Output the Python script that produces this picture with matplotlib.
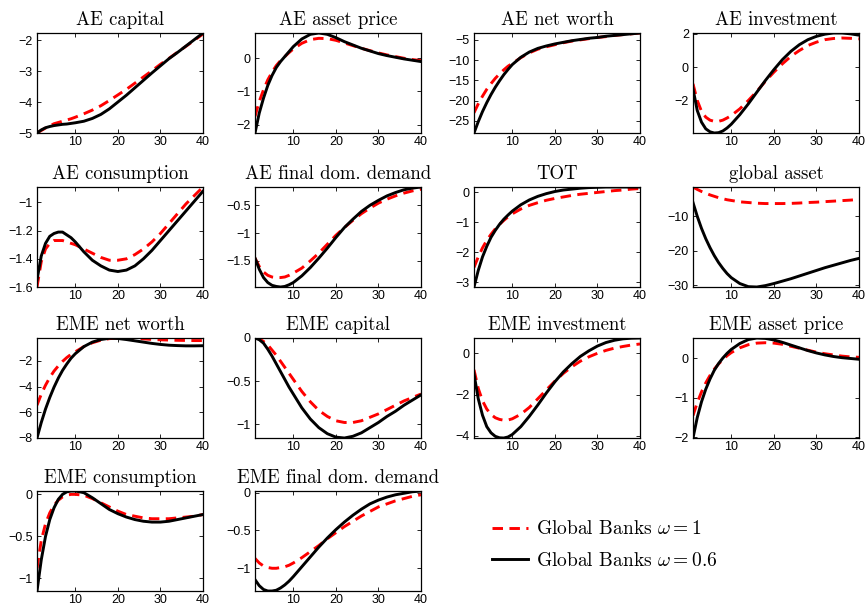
import matplotlib
matplotlib.use("Agg")
import matplotlib.pyplot as plt
from matplotlib.ticker import FuncFormatter
from matplotlib.lines import Line2D

plt.rcParams['mathtext.fontset'] = 'cm'
plt.rcParams['font.family'] = ['Liberation Sans', 'DejaVu Sans']

# quarters after the shock
t = [1, 2, 3, 4, 5, 6, 7, 8, 9, 10, 12, 14, 16, 18, 20, 22, 24, 26, 28, 30, 32, 34, 36, 38, 40]

titles = ['AE capital', 'AE asset price', 'AE net worth', 'AE investment',
          'AE consumption', 'AE final dom. demand', 'TOT', 'global asset',
          'EME net worth', 'EME capital', 'EME investment', 'EME asset price',
          'EME consumption', 'EME final dom. demand']

# omega = 1 (red dashed)
ae_capital_1 = [-5.0, -4.92, -4.84, -4.77, -4.7, -4.66, -4.62, -4.58, -4.54, -4.49, -4.38, -4.26, -4.12, -3.95, -3.77, -3.59, -3.39, -3.19, -2.99, -2.78, -2.59, -2.39, -2.2, -2.0, -1.8]
ae_price_1 = [-1.75, -1.3, -0.95, -0.65, -0.42, -0.22, -0.07, 0.05, 0.17, 0.28, 0.45, 0.56, 0.6, 0.59, 0.54, 0.46, 0.38, 0.3, 0.23, 0.16, 0.1, 0.05, 0.0, -0.04, -0.07]
ae_networth_1 = [-23, -20.8, -18.9, -17.2, -15.8, -14.5, -13.4, -12.4, -11.5, -10.8, -9.4, -8.2, -7.3, -6.7, -6.2, -5.7, -5.3, -5.0, -4.7, -4.4, -4.2, -3.9, -3.7, -3.5, -3.3]
ae_invest_1 = [-1.0, -2.0, -2.65, -3.0, -3.18, -3.25, -3.25, -3.18, -3.05, -2.9, -2.5, -2.0, -1.45, -0.85, -0.3, 0.2, 0.65, 1.0, 1.3, 1.5, 1.65, 1.72, 1.75, 1.73, 1.7]
ae_cons_1 = [-1.6, -1.42, -1.33, -1.29, -1.27, -1.27, -1.27, -1.28, -1.29, -1.3, -1.33, -1.36, -1.39, -1.41, -1.41, -1.4, -1.37, -1.33, -1.28, -1.22, -1.15, -1.08, -1.01, -0.95, -0.89]
ae_demand_1 = [-1.45, -1.6, -1.7, -1.76, -1.79, -1.8, -1.8, -1.79, -1.76, -1.72, -1.63, -1.5, -1.36, -1.2, -1.04, -0.9, -0.77, -0.65, -0.55, -0.46, -0.39, -0.33, -0.28, -0.24, -0.21]
tot_1 = [-2.5, -2.15, -1.85, -1.6, -1.4, -1.22, -1.07, -0.94, -0.82, -0.72, -0.56, -0.44, -0.35, -0.27, -0.21, -0.16, -0.11, -0.07, -0.04, -0.01, 0.02, 0.05, 0.07, 0.1, 0.12]
global_asset_1 = [-1.5, -2.2, -2.8, -3.3, -3.8, -4.2, -4.6, -4.9, -5.2, -5.4, -5.8, -6.0, -6.2, -6.3, -6.3, -6.3, -6.25, -6.15, -6.0, -5.9, -5.75, -5.6, -5.45, -5.3, -5.1]
eme_networth_1 = [-5.45, -4.6, -3.9, -3.3, -2.8, -2.4, -2.05, -1.75, -1.5, -1.3, -0.9, -0.6, -0.4, -0.28, -0.23, -0.24, -0.27, -0.3, -0.34, -0.37, -0.39, -0.41, -0.42, -0.43, -0.43]
eme_capital_1 = [0.0, -0.01, -0.04, -0.08, -0.14, -0.2, -0.27, -0.34, -0.41, -0.48, -0.62, -0.74, -0.84, -0.91, -0.96, -0.98, -0.98, -0.96, -0.92, -0.88, -0.83, -0.78, -0.73, -0.69, -0.65]
eme_invest_1 = [-0.8, -1.7, -2.3, -2.7, -2.96, -3.12, -3.2, -3.24, -3.23, -3.17, -2.95, -2.62, -2.2, -1.77, -1.35, -0.97, -0.65, -0.38, -0.17, 0.0, 0.14, 0.25, 0.33, 0.4, 0.45]
eme_price_1 = [-1.45, -1.12, -0.85, -0.62, -0.43, -0.27, -0.14, -0.03, 0.07, 0.15, 0.27, 0.35, 0.39, 0.4, 0.39, 0.36, 0.31, 0.26, 0.21, 0.16, 0.12, 0.09, 0.06, 0.04, 0.03]
eme_cons_1 = [-0.88, -0.55, -0.35, -0.22, -0.13, -0.07, -0.03, -0.01, 0.0, 0.0, -0.01, -0.05, -0.1, -0.15, -0.2, -0.24, -0.26, -0.28, -0.29, -0.29, -0.29, -0.28, -0.27, -0.26, -0.24]
eme_demand_1 = [-0.87, -0.93, -0.97, -0.99, -1.0, -1.0, -0.99, -0.98, -0.96, -0.93, -0.86, -0.78, -0.7, -0.61, -0.53, -0.45, -0.38, -0.31, -0.25, -0.19, -0.15, -0.11, -0.08, -0.05, -0.03]

# omega = 0.6 (black solid)
ae_capital_06 = [-5.0, -4.9, -4.83, -4.79, -4.76, -4.74, -4.72, -4.71, -4.69, -4.67, -4.62, -4.53, -4.4, -4.22, -4.0, -3.78, -3.54, -3.3, -3.06, -2.83, -2.6, -2.4, -2.19, -1.98, -1.77]
ae_price_06 = [-2.25, -1.65, -1.2, -0.82, -0.52, -0.28, -0.1, 0.05, 0.2, 0.35, 0.58, 0.72, 0.76, 0.72, 0.62, 0.5, 0.4, 0.3, 0.22, 0.14, 0.08, 0.03, -0.02, -0.06, -0.1]
ae_networth_06 = [-28, -25.2, -22.7, -20.5, -18.5, -16.7, -15.1, -13.6, -12.3, -11.1, -9.3, -8.0, -7.1, -6.5, -6.0, -5.6, -5.2, -4.9, -4.6, -4.4, -4.1, -3.9, -3.7, -3.5, -3.3]
ae_invest_06 = [-1.3, -2.6, -3.3, -3.7, -3.88, -3.95, -3.93, -3.83, -3.65, -3.42, -2.85, -2.2, -1.5, -0.8, -0.15, 0.45, 0.95, 1.35, 1.65, 1.85, 1.98, 2.05, 2.05, 2.0, 1.92]
ae_cons_06 = [-1.55, -1.38, -1.29, -1.24, -1.22, -1.21, -1.21, -1.23, -1.25, -1.28, -1.35, -1.41, -1.45, -1.48, -1.49, -1.48, -1.45, -1.4, -1.34, -1.27, -1.2, -1.13, -1.06, -0.99, -0.92]
ae_demand_06 = [-1.45, -1.65, -1.8, -1.89, -1.94, -1.96, -1.97, -1.96, -1.93, -1.89, -1.77, -1.62, -1.45, -1.27, -1.08, -0.9, -0.75, -0.61, -0.5, -0.41, -0.33, -0.27, -0.22, -0.19, -0.17]
tot_06 = [-3.15, -2.6, -2.15, -1.8, -1.5, -1.27, -1.07, -0.9, -0.76, -0.63, -0.42, -0.26, -0.14, -0.05, 0.02, 0.07, 0.1, 0.13, 0.15, 0.16, 0.17, 0.17, 0.17, 0.17, 0.17]
global_asset_06 = [-6.0, -10.0, -13.5, -16.5, -19.1, -21.4, -23.4, -25.1, -26.6, -27.8, -29.5, -30.4, -30.5, -30.1, -29.5, -28.8, -28.1, -27.3, -26.5, -25.7, -24.9, -24.2, -23.5, -22.8, -22.2]
eme_networth_06 = [-8.0, -6.8, -5.75, -4.85, -4.05, -3.35, -2.75, -2.25, -1.8, -1.45, -0.9, -0.55, -0.35, -0.25, -0.27, -0.35, -0.45, -0.55, -0.65, -0.73, -0.79, -0.82, -0.84, -0.84, -0.83]
eme_capital_06 = [0.0, -0.02, -0.06, -0.13, -0.21, -0.3, -0.39, -0.48, -0.57, -0.65, -0.81, -0.94, -1.04, -1.11, -1.15, -1.16, -1.14, -1.1, -1.04, -0.98, -0.91, -0.85, -0.78, -0.72, -0.66]
eme_invest_06 = [-1.0, -2.2, -3.0, -3.55, -3.85, -4.02, -4.09, -4.1, -4.05, -3.93, -3.55, -3.05, -2.5, -1.92, -1.38, -0.9, -0.5, -0.15, 0.12, 0.35, 0.52, 0.63, 0.7, 0.73, 0.74]
eme_price_06 = [-2.02, -1.5, -1.1, -0.78, -0.52, -0.3, -0.13, 0.01, 0.13, 0.23, 0.38, 0.48, 0.52, 0.51, 0.47, 0.41, 0.34, 0.27, 0.2, 0.14, 0.09, 0.05, 0.02, 0.0, -0.02]
eme_cons_06 = [-1.15, -0.78, -0.5, -0.3, -0.16, -0.06, 0.0, 0.03, 0.04, 0.04, 0.02, -0.04, -0.11, -0.18, -0.23, -0.27, -0.3, -0.32, -0.33, -0.33, -0.32, -0.3, -0.28, -0.26, -0.24]
eme_demand_06 = [-1.15, -1.23, -1.28, -1.3, -1.3, -1.29, -1.26, -1.22, -1.17, -1.11, -0.98, -0.85, -0.72, -0.6, -0.49, -0.39, -0.3, -0.22, -0.15, -0.1, -0.06, -0.03, -0.01, 0.01, 0.02]

series_1 = [ae_capital_1, ae_price_1, ae_networth_1, ae_invest_1, ae_cons_1, ae_demand_1, tot_1, global_asset_1,
            eme_networth_1, eme_capital_1, eme_invest_1, eme_price_1, eme_cons_1, eme_demand_1]
series_06 = [ae_capital_06, ae_price_06, ae_networth_06, ae_invest_06, ae_cons_06, ae_demand_06, tot_06, global_asset_06,
             eme_networth_06, eme_capital_06, eme_invest_06, eme_price_06, eme_cons_06, eme_demand_06]

yticks = [[-5, -4, -3, -2], [-2, -1, 0], [-25, -20, -15, -10, -5], [-2, 0, 2],
          [-1.6, -1.4, -1.2, -1], [-1.5, -1, -0.5], [-3, -2, -1, 0], [-30, -20, -10],
          [-8, -6, -4, -2], [-1, -0.5, 0], [-4, -2, 0], [-2, -1, 0],
          [-1, -0.5, 0], [-1, -0.5, 0]]
xticks = [10, 20, 30, 40]

def fmt(v, pos):
    return ('%g' % v).replace('-', '\u2212')

W, H = 867, 606
fig = plt.figure(figsize=(W / 100, H / 100), dpi=100)
lefts = [37, 255, 474, 693]
tops = [33, 187, 338, 491]
aw, ah = 166, 100

for i in range(14):
    r, c = divmod(i, 4)
    ax = fig.add_axes([lefts[c] / W, 1 - (tops[r] + ah) / H, aw / W, ah / H])
    ax.plot(t, series_1[i], color='red', lw=2.1, ls=(0, (3.6, 2.2)))
    ax.plot(t, series_06[i], color='black', lw=2.1)
    ax.set_xlim(1, 40)
    lo = min(min(series_1[i]), min(series_06[i]))
    hi = max(max(series_1[i]), max(series_06[i]))
    ax.set_ylim(lo, hi)
    ax.set_xticks(xticks)
    ax.set_yticks(yticks[i])
    ax.yaxis.set_major_formatter(FuncFormatter(fmt))
    ax.tick_params(direction='in', length=3, width=0.6, labelsize=9,
                   top=True, right=True)
    ax.tick_params(axis='x', pad=2)
    ax.tick_params(axis='y', pad=3)
    for s in ax.spines.values():
        s.set_linewidth(0.9)
    ax.set_title(titles[i], fontfamily='cmr10', fontsize=13.5, pad=6)

handles = [Line2D([], [], color='red', lw=2.1, ls=(0, (3.6, 2.2))),
           Line2D([], [], color='black', lw=2.1)]
labels = [r'Global Banks $\omega = 1$', r'Global Banks $\omega = 0.6$']
leg = fig.legend(handles, labels, loc='upper left', bbox_to_anchor=(474 / W, 1 - 503 / H),
                 frameon=False, handlelength=1.9, handletextpad=0.4, labelspacing=0.7,
                 prop={'family': 'cmr10', 'size': 14})

fig.savefig('out.png', dpi=100)
